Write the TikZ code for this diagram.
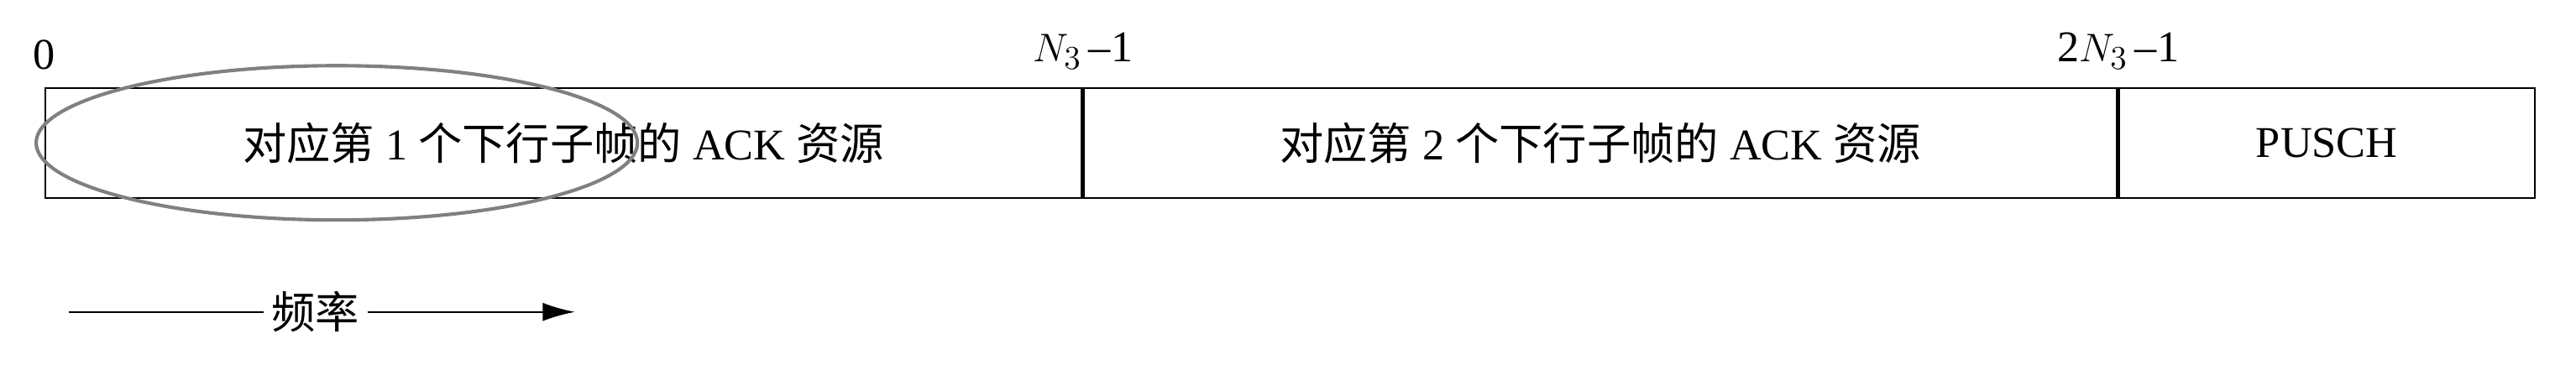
\documentclass[tikz,border=0pt]{standalone}
\usepackage{fontspec}
\setmainfont{Liberation Serif}
\newfontfamily\cjk{Noto Sans CJK SC}
\usetikzlibrary{positioning,arrows.meta}

\begin{document}
\begin{tikzpicture}[x=0.025cm,y=-0.025cm,
  every node/.style={font=\fontsize{19}{22}\selectfont},
  slot/.style={draw,line width=0.8pt,minimum height=67*0.025cm,inner sep=0pt}]
  \useasboundingbox (0,0) rectangle (1568,222);
  % resource blocks
  \node[slot,minimum width=631*0.025cm,anchor=north west] (ack1) at (27,53) {{\cjk 对应第} 1 {\cjk 个下行子帧的} ACK {\cjk 资源}};
  \node[slot,minimum width=629*0.025cm,right=0pt of ack1] (ack2) {{\cjk 对应第} 2 {\cjk 个下行子帧的} ACK {\cjk 资源}};
  \node[slot,minimum width=253*0.025cm,right=0pt of ack2] (pusch) {PUSCH};
  \node[above=4pt of ack1.north west,anchor=south] (n0) {0};
  \node[above=4pt of ack2.north west,anchor=south] (n1) {$N_3$\,--1};
  \node[above=4pt of pusch.north west,anchor=south] (n2) {2$N_3$\,--1};
  \draw[gray,line width=1.5pt] (205,87) ellipse (183 and 47);
  % frequency axis
  \node (freq) at (192,190) {\cjk 频率};
  \coordinate (fa) at (42,190);
  \coordinate (fb) at (350,190);
  \draw[line width=0.8pt] (fa) -- (freq.west);
  \draw[line width=0.8pt,-{Latex[length=14pt,width=8pt]}] (freq.east) -- (fb);
\end{tikzpicture}
\end{document}
